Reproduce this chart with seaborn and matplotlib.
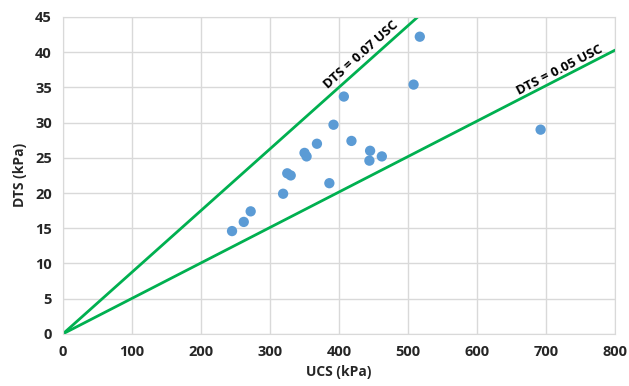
import numpy as np
import pandas as pd
import seaborn as sns
import matplotlib.pyplot as plt

# measured points
ucs = [245, 262, 272, 319, 325, 330, 350, 353, 368, 386, 392, 407, 418,
       445, 444, 462, 508, 517, 692]
dts = [14.6, 15.9, 17.4, 19.9, 22.8, 22.5, 25.7, 25.2, 27.0, 21.4, 29.7,
       33.7, 27.4, 26.0, 24.6, 25.2, 35.4, 42.2, 29.0]

# guide lines (end points as drawn in the original)
line_labels = ["DTS = 0.07 USC", "DTS = 0.05 USC"]
line_x_end = [514, 800]
line_y_end = [45.0, 40.3]
label_x = [432, 720]
label_y = [39.7, 37.4]

df = pd.DataFrame({"UCS": ucs, "DTS": dts})

sns.set_style("white")
plt.rcParams["font.family"] = ["Open Sans", "DejaVu Sans"]

fig = plt.figure(figsize=(6.29, 3.86), dpi=100)
ax = fig.add_axes([0.1, 0.135, 0.878, 0.821])

for lab, xe, ye in zip(line_labels, line_x_end, line_y_end):
    ldf = pd.DataFrame({"x": [0, xe], "y": [0, ye]})
    sns.lineplot(data=ldf, x="x", y="y", ax=ax, color="#00b050", linewidth=2)

for lab, xe, ye, tx, ty in zip(line_labels, line_x_end, line_y_end, label_x, label_y):
    ang = np.degrees(np.arctan2(ye, xe))
    ax.text(tx, ty, lab, rotation=ang, transform_rotates_text=True,
            rotation_mode="anchor", ha="center", va="center",
            fontsize=9.5, fontweight="bold", color="black")

sns.scatterplot(data=df, x="UCS", y="DTS", ax=ax, color="#5b9bd5",
                s=55, edgecolor="none", zorder=3)

ax.set_xlim(0, 800)
ax.set_ylim(0, 45)
ax.set_xticks(range(0, 801, 100))
ax.set_yticks(range(0, 46, 5))
ax.grid(True, color="#d9d9d9", linewidth=1)
ax.set_axisbelow(True)
for s in ax.spines.values():
    s.set_color("#d9d9d9")
ax.tick_params(length=0, labelsize=10.5, pad=8)
for t in ax.get_xticklabels() + ax.get_yticklabels():
    t.set_fontweight("bold")
ax.set_xlabel("UCS (kPa)", fontsize=10, fontweight="bold", labelpad=4)
ax.set_ylabel("DTS (kPa)", fontsize=10, fontweight="bold", labelpad=6)

plt.savefig("out.png", dpi=100)
